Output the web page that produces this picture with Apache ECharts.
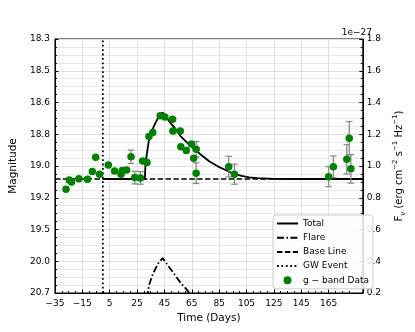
<!DOCTYPE html>
<html><head><meta charset="utf-8">
<script src="https://cdn.jsdelivr.net/npm/echarts@6/dist/echarts.min.js"></script>
<style>html,body{margin:0;padding:0;background:#fff}#c{width:415px;height:332px}</style>
</head><body><div id="c"></div>
<script>
// ---- data ----
const xTicks = [-35, -15, 5, 25, 45, 65, 85, 105, 125, 145, 165];
const fluxTicks = [0.2, 0.4, 0.6, 0.8, 1.0, 1.2, 1.4, 1.6, 1.8];
const magLabels = ['20.7', '20.0', '19.5', '19.2', '19.0', '18.8', '18.6', '18.5', '18.3'];

const obsDays = [-26.9, -24.5, -22.9, -17.5, -11.2, -7.7, -5.2, -2.4, 4.0, 8.6, 13.3, 14.2, 17.4,
  20.6, 23.3, 27.5, 29.1, 32.3, 33.7, 36.5, 41.9, 45.4, 51.0, 51.2, 56.6, 57.0, 61.0, 64.7,
  68.2, 66.4, 68.2, 92.0, 96.2, 165.0, 168.5, 178.3, 180.1, 181.3];
const obsFlux = [0.854, 0.912, 0.900, 0.919, 0.917, 0.965, 1.055, 0.948, 1.007, 0.969, 0.948, 0.971, 0.975,
  1.058, 0.927, 0.925, 1.032, 1.022, 1.186, 1.211, 1.316, 1.308, 1.295, 1.221, 1.221, 1.122, 1.097, 1.139,
  1.106, 1.049, 0.955, 0.996, 0.948, 0.933, 0.995, 1.042, 1.175, 0.982];
const obsErr = [0, 0, 0, 0, 0, 0, 0, 0, 0, 0, 0, 0, 0,
  0.042, 0.040, 0.040, 0, 0, 0, 0, 0, 0, 0, 0, 0, 0, 0, 0,
  0.048, 0, 0.065, 0.065, 0.063, 0.063, 0.068, 0.092, 0.105, 0.090];

const totalDays = [0, 30.7, 31.0, 31.4, 32.6, 33.7, 36.1, 38.4, 40.7, 43.7, 47, 50, 53, 57, 61, 66.4, 71, 78, 84, 89.7, 95, 101.4, 107, 113, 125, 140, 190];
const totalFlux = [0.918, 0.918, 0.98, 1.03, 1.10, 1.165, 1.228, 1.27, 1.308, 1.337, 1.30, 1.265, 1.235, 1.186, 1.152, 1.112, 1.076, 1.028, 0.998, 0.975, 0.953, 0.938, 0.929, 0.923, 0.919, 0.918, 0.918];

const flareDays = [31.0, 31.4, 32.6, 33.7, 36.1, 38.4, 40.7, 43.7, 47, 50, 53, 57, 61, 64, 66.4, 71, 78, 89.7, 101.4, 125, 190];
const flareFlux = [0, 0.11, 0.18, 0.247, 0.31, 0.352, 0.39, 0.42, 0.38, 0.345, 0.31, 0.262, 0.225, 0.19, 0.18, 0.155, 0.11, 0.057, 0.02, 0.001, 0];

const baseDays = [-35, 190];
const baseFlux = [0.918, 0.918];
const gwDays = [0, 0];
const gwFlux = [0.2, 1.8];

// ---- chart ----
const FONT = 'DejaVu Sans';
const zip = (a, b) => a.map((v, i) => [v, b[i]]);
const chart = echarts.init(document.getElementById('c'), null, { renderer: 'canvas' });

const tickFmtX = v => (v < 0 ? '\u2212' + (-v) : String(v));
const NOSYM = { color: 'rgba(0,0,0,0)', borderWidth: 0, borderColor: 'rgba(0,0,0,0)' };

const option = {
  animation: false,
  backgroundColor: '#fff',
  textStyle: { fontFamily: FONT, color: '#000' },
  grid: { left: 52, right: 42, top: 39, bottom: 39, show: true, borderColor: '#000', borderWidth: 1, backgroundColor: 'transparent' },
  xAxis: {
    type: 'value', min: -35, max: 190, interval: 20,
    name: 'Time (Days)', nameLocation: 'middle', nameGap: 20,
    nameTextStyle: { fontSize: 10.5, color: '#000', fontFamily: FONT },
    axisLine: { onZero: false, lineStyle: { color: '#000', width: 1 } },
    axisTick: { inside: true, length: 3.5, customValues: xTicks, lineStyle: { color: '#000' } },
    minorTick: { show: true, splitNumber: 4, length: 2, lineStyle: { color: '#000' } },
    axisLabel: { customValues: xTicks, formatter: tickFmtX, fontSize: 9, margin: 6, color: '#000', fontFamily: FONT },
    splitLine: { show: true, lineStyle: { color: '#dedede', width: 1 } }
  },
  yAxis: [
    {
      type: 'value', position: 'left', min: 0.2, max: 1.8, interval: 0.2,
      name: 'Magnitude', nameLocation: 'middle', nameGap: 28, nameRotate: 90,
      nameTextStyle: { fontSize: 10.5, color: '#000', fontFamily: FONT },
      axisLine: { show: true, onZero: false, lineStyle: { color: '#000' } },
      axisTick: { show: true, inside: true, length: 3.5, lineStyle: { color: '#000' } },
      minorTick: { show: true, splitNumber: 4, length: 2, lineStyle: { color: '#000' } },
      axisLabel: { fontSize: 9, margin: 5, color: '#000', fontFamily: FONT,
        formatter: v => magLabels[Math.round((v - fluxTicks[0]) / 0.2)] },
      splitLine: { show: true, lineStyle: { color: '#dedede' } },
      minorSplitLine: { show: true, lineStyle: { color: '#e8e8e8' } }
    },
    {
      type: 'value', position: 'right', min: 0.2, max: 1.8, interval: 0.2,
      name: '{a|F}{sub|\u03bd}{a| (erg cm}{sup|\u22122}{a| s}{sup|\u22121}{a| Hz}{sup|\u22121}{a|)}',
      nameLocation: 'middle', nameGap: 28, nameRotate: 90,
      nameTextStyle: {
        fontSize: 10, color: '#000', fontFamily: FONT,
        rich: {
          a: { fontSize: 10, lineHeight: 15, fontFamily: FONT, color: '#000' },
          sub: { fontSize: 7, lineHeight: 7, verticalAlign: 'bottom', fontFamily: FONT, color: '#000' },
          sup: { fontSize: 7, lineHeight: 7, verticalAlign: 'top', fontFamily: FONT, color: '#000' }
        }
      },
      axisLine: { show: true, onZero: false, lineStyle: { color: '#000' } },
      axisTick: { show: true, inside: true, length: 3.5, lineStyle: { color: '#000' } },
      minorTick: { show: true, splitNumber: 4, length: 2, lineStyle: { color: '#000' } },
      axisLabel: { fontSize: 9, margin: 4, color: '#000', fontFamily: FONT, formatter: v => v.toFixed(1) },
      splitLine: { show: false }
    }
  ],
  legend: {
    orient: 'vertical', left: 273, top: 215,
    padding: [3, 4, 3, 3], itemGap: 3.2, itemWidth: 21, itemHeight: 8,
    backgroundColor: 'rgba(255,255,255,0.85)', borderColor: '#cccccc', borderWidth: 1, borderRadius: 3,
    textStyle: { fontSize: 9, lineHeight: 11, color: '#000', fontFamily: FONT },
    data: [
      { name: 'Total', itemStyle: NOSYM },
      { name: 'Flare', itemStyle: NOSYM },
      { name: 'Base Line', itemStyle: NOSYM },
      { name: 'GW Event', itemStyle: NOSYM },
      { name: 'g \u2212 band Data', icon: 'circle' }
    ]
  },
  graphic: [
    { type: 'text', right: 43, top: 28, style: { text: '1e\u221227', fontSize: 9, fontFamily: FONT, fill: '#000' } }
  ],
  series: [
    { name: 'Base Line', type: 'line', data: zip(baseDays, baseFlux), symbol: 'none', z: 2,
      lineStyle: { color: '#000', width: 1.6, type: [5.5, 2.4] }, itemStyle: NOSYM },
    { name: 'GW Event', type: 'line', data: zip(gwDays, gwFlux), symbol: 'none', z: 2,
      lineStyle: { color: '#000', width: 1.8, type: [1.8, 2.6] }, itemStyle: NOSYM },
    { name: 'Total', type: 'line', data: zip(totalDays, totalFlux), symbol: 'none', z: 3,
      lineStyle: { color: '#000', width: 1.8 }, itemStyle: NOSYM },
    { name: 'Flare', type: 'line', data: zip(flareDays, flareFlux), symbol: 'none', z: 3, clip: true,
      lineStyle: { color: '#000', width: 1.8, type: [7, 2.4, 1.6, 2.4] }, itemStyle: NOSYM },
    { name: 'errbars', type: 'custom', z: 4,
      data: obsDays.map((d, i) => [d, obsFlux[i], obsErr[i]]),
      renderItem: (params, api) => {
        const x = api.value(0), y = api.value(1), e = api.value(2);
        if (!e) return { type: 'group', children: [] };
        const t = api.coord([x, y + e]), b = api.coord([x, y - e]);
        const c = 3.3, st = { stroke: '#8c8c8c', lineWidth: 1.3 };
        return { type: 'group', children: [
          { type: 'line', shape: { x1: t[0], y1: t[1], x2: b[0], y2: b[1] }, style: st },
          { type: 'line', shape: { x1: t[0] - c, y1: t[1], x2: t[0] + c, y2: t[1] }, style: st },
          { type: 'line', shape: { x1: b[0] - c, y1: b[1], x2: b[0] + c, y2: b[1] }, style: st }
        ] };
      }
    },
    { name: 'g \u2212 band Data', type: 'scatter', z: 5, symbol: 'circle', symbolSize: 7.5,
      data: zip(obsDays, obsFlux), itemStyle: { color: '#008000', opacity: 1 } }
  ]
};
chart.setOption(option);
</script>
</body></html>
